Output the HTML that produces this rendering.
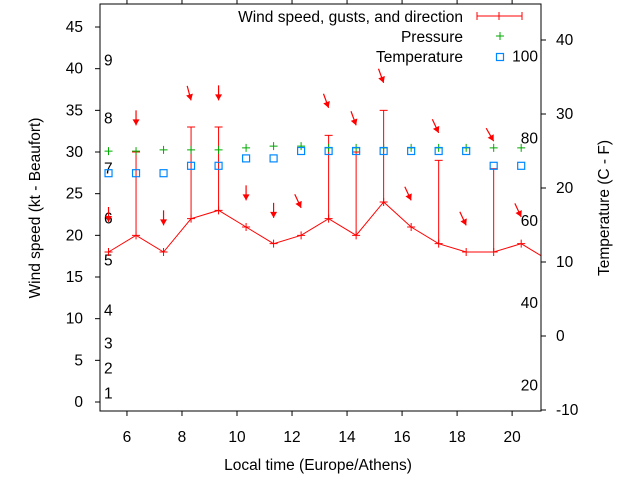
<!DOCTYPE html>
<html><head><meta charset="utf-8">
<style>
html,body{margin:0;padding:0;background:#fff;}
svg{display:block;font-family:"Liberation Sans",sans-serif;}
</style></head>
<body>
<svg id="chart" width="640" height="480" viewBox="0 0 640 480" xmlns="http://www.w3.org/2000/svg">
</svg>
<script>
const hours = [5.33,6.33,7.33,8.33,9.33,10.33,11.33,12.33,13.33,14.33,15.33,16.33,17.33,18.33,19.33,20.33,21.33];
const windKt = [18,20,18,22,23,21,19,20,22,20,24,21,19,18,18,19,17];
const gustKt = [18,30,18,33,33,21,19,20,32,30,35,21,29,18,28,19,17];
const pressure = [30.1,30.1,30.25,30.25,30.25,30.5,30.7,30.7,30.5,30.5,30.5,30.5,30.5,30.5,30.5,30.5];
const tempC = [22,22,22,23,23,24,24,25,25,25,25,25,25,25,23,23];
const arrowLevel = [21.6,33.2,21.2,36.2,36.2,24.2,22.1,23.3,35.3,33.2,38.3,24.2,32.3,21.2,31.3,22.2];
const arrowDir = [0,0,0,345,0,0,0,335,340,340,340,335,335,335,330,335];
const xTicks = [6,8,10,12,14,16,18,20];
const yTicks = [0,5,10,15,20,25,30,35,40,45];
const y2Ticks = [-10,0,10,20,30,40];
const beaufortLabels = ["1","2","3","4","5","6","7","8","9"];
const beaufortKt = [1,4,7,11,17,22,28,34,41];
const fahrenheit = [20,40,60,80,100];

const FS=15.5;
const L=100,R=541,T=4,B=411;
const X0=5.02,X1=21.05;
function sx(h){return L+(h-X0)/(X1-X0)*(R-L);}
function sy(v){return 402-v*8.333;}
function sy2(c){return 336-c*7.4;}
const svg=document.getElementById('chart');
const NS='http://www.w3.org/2000/svg';
function mk(tag,attrs,parent){const e=document.createElementNS(NS,tag);for(const k in attrs)e.setAttribute(k,attrs[k]);(parent||svg).appendChild(e);return e;}
function txt(x,y,s,anchor,parent){const t=mk('text',{x:x,y:y,'font-size':FS,fill:'#000','text-anchor':anchor||'start'},parent);t.textContent=s;return t;}

const defs=mk('defs',{});
const cp=mk('clipPath',{id:'pc'},defs);
mk('rect',{x:L,y:T,width:R-L,height:B-T},cp);

const axes=mk('g',{});


xTicks.forEach(h=>{const x=sx(h);
  mk('line',{x1:x,y1:B,x2:x,y2:B+5,stroke:'#000'},axes);
  mk('line',{x1:x,y1:T,x2:x,y2:T-5,stroke:'#000'},axes);
  const t=txt(x,442,String(h),'middle',axes);
  
  
});
yTicks.forEach(v=>{const y=sy(v);
  mk('line',{x1:L-5,y1:y,x2:L,y2:y,stroke:'#000'},axes);
  const t=txt(83,y+5,String(v),'end',axes);
  
  
});
y2Ticks.forEach(c=>{const y=sy2(c);
  mk('line',{x1:R,y1:y,x2:R+5,y2:y,stroke:'#000'},axes);
  const t=txt(556,y+5,String(c),'start',axes);
  
  
});
beaufortLabels.forEach((s,i)=>{
  const t=txt(104,sy(beaufortKt[i])+5,s,'start',axes);
  
  
});
fahrenheit.forEach(f=>{
  const t=txt(538,sy2((f-32)*5/9)+5,String(f),'end',axes);
  
  
});
const xt=txt(318,470,'Local time (Europe/Athens)','middle',axes);


const yt=txt(0,0,'Wind speed (kt - Beaufort)','middle',axes);
yt.setAttribute('transform','translate(40,208) rotate(-90)');


const y2t=txt(0,0,'Temperature (C - F)','middle',axes);
y2t.setAttribute('transform','translate(609,208) rotate(-90)');



const plot=mk('g',{'clip-path':'url(#pc)'});
hours.forEach((h,i)=>{ if(gustKt[i]>windKt[i]){const x=sx(h);
  const g=mk('g',{stroke:'#f00','stroke-width':1},plot);
  
  
  mk('line',{x1:x,y1:sy(windKt[i]),x2:x,y2:sy(gustKt[i])},g);
  mk('line',{x1:x-4,y1:sy(gustKt[i]),x2:x+4,y2:sy(gustKt[i])},g);
}});
const wl=mk('polyline',{points:hours.map((h,i)=>sx(h)+','+sy(windKt[i])).join(' '),fill:'none',stroke:'#f00','stroke-width':1},plot);


hours.forEach((h,i)=>{const x=sx(h),y=sy(windKt[i]);
  const p=mk('path',{d:`M${x-4} ${y}H${x+4}M${x} ${y-4}V${y+4}`,stroke:'#f00'},plot);
  
  
});
arrowLevel.forEach((v,i)=>{const x=sx(hours[i]),y=sy(v);
  const a=(arrowDir[i])*Math.PI/180;
  const g=mk('g',{},plot);
  
  
  const tailx=x+Math.sin(a)*15, taily=y-Math.cos(a)*15;
  mk('line',{x1:tailx,y1:taily,x2:x,y2:y,stroke:'#f00','stroke-width':1.2},g);
  const ux=(x-tailx)/15,uy=(y-taily)/15;
  const bx=x-ux*6,by=y-uy*6;
  mk('polygon',{points:`${x},${y} ${bx-uy*3.5},${by+ux*3.5} ${bx+uy*3.5},${by-ux*3.5}`,fill:'#f00'},g);
});
pressure.forEach((v,i)=>{const x=sx(hours[i]),y=sy(v);
  const p=mk('path',{d:`M${x-4} ${y}H${x+4}M${x} ${y-4}V${y+4}`,stroke:'#0a0'},plot);
  
  
});
tempC.forEach((c,i)=>{const x=sx(hours[i]),y=sy2(c);
  const r=mk('rect',{x:x-3.5,y:y-3.5,width:7,height:7,fill:'none',stroke:'#08f','stroke-width':1.2},plot);
  
  
});
const fr=mk('rect',{x:L,y:T,width:R-L,height:B-T,fill:'none',stroke:'#000','stroke-width':1});



const lg=mk('g',{});


const l1=txt(463,22,'Wind speed, gusts, and direction','end',lg);


mk('path',{d:'M477 16H522M477 12V20M522 12V20M499 12V20',stroke:'#f00',fill:'none'},lg);
const l2=txt(463,42,'Pressure','end',lg);


mk('path',{d:'M496 36H504M500 32V40',stroke:'#0a0'},lg);
const l3=txt(463,62,'Temperature','end',lg);


mk('rect',{x:496.5,y:53.5,width:7,height:7,fill:'none',stroke:'#08f','stroke-width':1.2},lg);
</script>
</body></html>
